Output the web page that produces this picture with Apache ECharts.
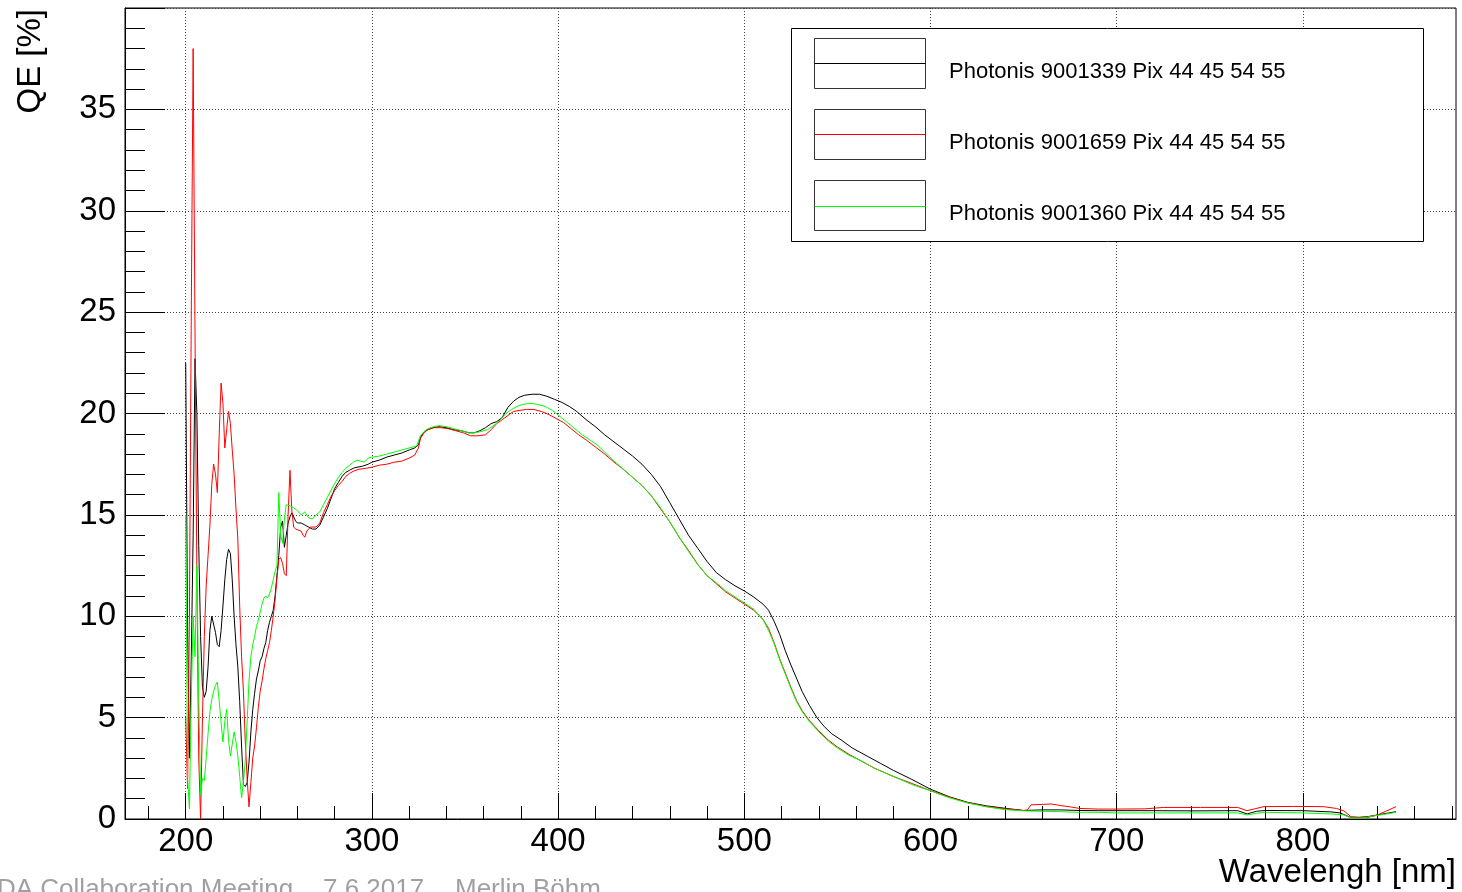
<!DOCTYPE html>
<html>
<head>
<meta charset="utf-8">
<title>QE vs wavelength</title>
<script src="https://cdn.jsdelivr.net/npm/echarts@6/dist/echarts.min.js"></script>
<style>
  html, body { margin: 0; padding: 0; background: #fff; }
  #chart { width: 1462px; height: 892px; }
</style>
</head>
<body>
<div id="chart"></div>
<script>
// Series names and colours
const seriesNames = [
  'Photonis 9001339 Pix 44 45 54 55',
  'Photonis 9001659 Pix 44 45 54 55',
  'Photonis 9001360 Pix 44 45 54 55'
];
const seriesColors = ['#000000', '#ff0000', '#00ff00'];

// Axis ranges and tick values
const X_MIN = 167.4, X_MAX = 882.2;
const Y_MIN = 0, Y_MAX = 40, Y_STEP = 5;
const xMajorTicks = [200, 300, 400, 500, 600, 700, 800];
const xMinorTicks = [180, 220, 240, 260, 280, 320, 340, 360, 380, 420, 440, 460, 480,
  520, 540, 560, 580, 620, 640, 660, 680, 720, 740, 760, 780, 820, 840, 860, 880];

// Photonis 9001339: wavelength [nm] and QE [%]
const wl9001339 = [200,201,202,203,204,205,206,207,208,209,210,211,212,213,214,215,216,217,218,219,
  220,221,222,223,224,225,226,227,228,229,230,231,232,233,234,235,236,237,238,239,
  240,241,242,243,244,245,246,247,248,249,250,251,252,253,254,255,256,257,258,259,
  260,262,264,266,268,270,272,274,276,278,280,282,284,286,288,290,292,295,298,300,
  304,308,312,316,320,323,325,326,328,330,333,336,340,344,348,352,355,358,361,364,
  367,370,373,376,379,382,386,390,394,398,402,406,410,415,420,425,430,435,440,445,
  450,455,460,465,470,475,480,485,490,495,500,505,510,513,516,519,522,525,528,531,
  535,539,543,547,552,558,566,573,580,590,600,610,620,630,640,650,660,670,680,690,
  700,720,740,765,770,775,780,800,815,820,825,830,835,840,845,850];
const qe9001339 = [22.5,9.5,3.0,8.0,14.0,22.7,20.0,13.5,9.0,6.5,6.0,6.3,7.5,9.3,10.0,10.0,9.2,8.6,8.5,9.3,
  10.5,11.8,12.8,13.3,13.1,11.8,10.0,8.6,7.5,5.8,3.6,1.7,1.6,1.8,2.8,4.3,5.4,6.2,6.9,7.3,
  7.8,8.0,8.4,8.7,9.3,9.7,10.0,10.3,11.0,12.0,13.0,14.4,14.7,13.4,14.0,14.6,14.9,15.1,14.9,14.7,
  14.6,14.6,14.5,14.4,14.3,14.3,14.5,14.9,15.3,15.8,16.3,16.6,16.9,17.1,17.2,17.3,17.35,17.4,17.5,17.6,
  17.7,17.85,17.95,18.05,18.2,18.3,18.45,18.8,19.1,19.2,19.3,19.35,19.3,19.2,19.15,19.05,19.05,19.15,19.3,19.5,
  19.6,19.8,20.3,20.6,20.8,20.9,20.95,20.95,20.85,20.7,20.55,20.35,20.1,19.7,19.35,18.95,18.6,18.25,17.9,17.5,
  17.0,16.4,15.6,14.8,14.0,13.35,12.7,12.15,11.8,11.5,11.25,10.95,10.6,10.3,9.75,9.1,8.3,7.6,6.95,6.3,
  5.6,5.0,4.55,4.2,3.9,3.5,3.1,2.75,2.4,1.95,1.47,1.1,0.82,0.65,0.53,0.42,0.45,0.45,0.42,0.41,
  0.41,0.41,0.40,0.41,0.25,0.38,0.42,0.41,0.35,0.30,0.10,0.08,0.12,0.20,0.28,0.36];

// Photonis 9001659
const wl9001659 = [200,201,202,203,204,205,206,207,208,209,210,211,212,213,214,215,216,217,218,219,
  220,221,222,223,224,225,226,227,228,229,230,231,232,233,234,235,236,237,238,239,
  240,241,242,243,244,245,246,247,248,249,250,251,252,253,254,255,256,257,258,259,
  260,262,263,264,265,267,270,272,274,276,278,280,282,284,286,288,290,293,297,300,
  304,308,312,316,320,323,325,326,328,330,333,337,341,345,349,353,357,361,364,367,
  370,373,376,379,383,387,391,395,399,403,407,411,415,420,425,430,435,440,445,450,
  455,460,465,470,475,480,485,490,495,500,505,510,513,516,519,522,525,528,531,535,
  540,545,550,556,562,570,580,590,600,610,620,630,640,650,652,654,660,665,670,675,
  680,690,700,715,725,745,765,770,774,779,795,811,818,822,826,830,835,840,845,850];
const qe9001659 = [5.0,1.5,10.0,25.0,38.0,24.0,12.0,3.0,0.0,5.0,9.0,11.5,13.0,14.5,16.5,17.5,17.0,16.1,19.0,21.5,
  20.5,18.3,19.2,20.1,19.5,18.2,17.0,15.3,13.8,10.5,8.0,6.3,3.8,2.0,0.6,1.8,3.0,3.6,4.5,5.5,
  6.3,6.8,7.4,7.9,8.3,8.7,9.3,10.0,10.8,11.9,12.8,12.9,12.6,12.1,12.0,15.0,17.2,15.2,14.4,14.3,
  14.3,14.2,14.0,13.9,14.2,14.4,14.4,14.6,15.1,15.5,15.9,16.2,16.45,16.65,16.9,17.05,17.15,17.25,17.3,17.35,
  17.45,17.5,17.6,17.65,17.8,17.95,18.3,18.75,19.05,19.2,19.3,19.3,19.25,19.15,19.05,18.9,18.9,18.95,19.2,19.5,
  19.7,19.9,20.1,20.15,20.2,20.2,20.1,19.95,19.75,19.55,19.25,18.95,18.7,18.35,18.0,17.6,17.25,16.85,16.45,15.95,
  15.3,14.65,13.9,13.25,12.55,12.0,11.6,11.2,10.9,10.6,10.3,9.85,9.4,8.7,7.9,7.2,6.5,5.85,5.35,4.85,
  4.35,3.9,3.55,3.2,2.9,2.5,2.1,1.75,1.4,1.08,0.8,0.62,0.5,0.42,0.45,0.7,0.72,0.74,0.66,0.6,
  0.52,0.49,0.49,0.5,0.57,0.57,0.57,0.41,0.5,0.61,0.62,0.61,0.52,0.4,0.1,0.08,0.08,0.2,0.4,0.61];

// Photonis 9001360
const wl9001360 = [200,201,202,203,204,205,206,207,208,209,210,211,212,213,214,215,216,217,218,219,
  220,221,222,223,224,225,226,227,228,229,230,231,232,233,234,235,236,237,238,239,
  240,241,242,243,244,245,246,247,248,249,250,251,252,253,254,256,258,260,262,264,
  266,268,270,272,274,276,278,280,282,284,286,288,290,292,294,296,298,300,304,308,
  312,316,320,324,326,328,330,333,336,340,344,348,352,355,358,362,366,369,372,375,
  378,381,385,389,393,397,401,405,409,413,417,421,425,430,435,440,445,450,455,460,
  465,470,475,480,485,490,495,500,505,510,513,516,519,522,525,528,531,535,540,545,
  550,556,562,570,580,590,600,610,620,630,640,650,660,670,680,690,700,720,740,765,
  770,775,780,800,815,822,826,832,838,845,850];
const qe9001360 = [15.0,2.0,0.5,6.0,10.0,8.0,12.5,6.0,1.2,2.0,1.9,3.0,4.2,5.3,5.9,6.3,6.6,6.75,5.8,4.75,
  3.8,4.8,5.4,3.9,3.1,3.7,4.3,3.8,3.1,2.1,1.05,1.8,2.9,4.8,6.8,8.0,8.6,9.0,9.5,9.8,
  10.2,10.6,10.9,11.0,10.9,11.1,11.4,11.8,12.2,12.5,16.1,14.0,13.6,14.8,15.5,15.45,15.35,15.2,15.0,15.15,
  14.85,14.8,15.0,15.15,15.5,15.85,16.2,16.55,16.85,17.1,17.3,17.45,17.6,17.7,17.65,17.6,17.8,17.85,17.9,18.0,
  18.1,18.2,18.3,18.4,18.9,19.1,19.25,19.35,19.4,19.35,19.25,19.15,19.05,19.05,19.1,19.2,19.45,19.7,20.0,20.2,
  20.35,20.45,20.5,20.45,20.35,20.15,19.85,19.55,19.25,18.95,18.7,18.45,18.1,17.65,17.25,16.85,16.45,15.95,15.35,14.65,
  13.9,13.2,12.55,12.0,11.65,11.25,10.95,10.65,10.35,9.85,9.3,8.65,7.85,7.15,6.45,5.8,5.3,4.8,4.3,3.85,
  3.5,3.15,2.9,2.5,2.1,1.7,1.39,1.05,0.79,0.6,0.46,0.4,0.38,0.36,0.33,0.33,0.3,0.3,0.3,0.3,
  0.2,0.28,0.33,0.3,0.25,0.2,0.05,0.05,0.15,0.25,0.33];

const wlSets = [wl9001339, wl9001659, wl9001360];
const qeSets = [qe9001339, qe9001659, qe9001360];

const FONT = '"Liberation Sans", Arial, Helvetica, sans-serif';

function pairs(xs, ys) {
  return xs.map(function (x, i) { return [x, ys[i]]; });
}

const series = seriesNames.map(function (name, i) {
  return {
    name: name,
    type: 'line',
    xAxisIndex: 0,
    yAxisIndex: 0,
    data: pairs(wlSets[i], qeSets[i]),
    showSymbol: false,
    symbol: 'none',
    clip: true,
    lineStyle: { color: seriesColors[i], width: 1 },
    itemStyle: { color: seriesColors[i] },
    z: 3 + i
  };
});

// Legend panel: outer frame, one boxed line sample and one label per series
const LEG = { x: 791.5, y: 28.5, w: 632, h: 213, boxX: 814.5, boxW: 111, boxH: 50,
  boxTops: [38.5, 109.5, 180.5], sampleYs: [63, 134, 206], textX: 949, textYs: [72, 143, 214] };
const legendItems = [{
  type: 'rect', shape: { x: LEG.x, y: LEG.y, width: LEG.w, height: LEG.h },
  style: { fill: '#fff', stroke: '#000', lineWidth: 1 }, z: 50
}];
seriesNames.forEach(function (name, i) {
  legendItems.push({
    type: 'rect', shape: { x: LEG.boxX, y: LEG.boxTops[i], width: LEG.boxW, height: LEG.boxH },
    style: { fill: '#fff', stroke: '#333', lineWidth: 1 }, z: 51
  });
  legendItems.push({
    type: 'rect', shape: { x: LEG.boxX, y: LEG.sampleYs[i], width: LEG.boxW, height: 1 },
    style: { fill: seriesColors[i], stroke: null }, z: 53
  });
  legendItems.push({
    type: 'text', x: LEG.textX, y: LEG.textYs[i],
    style: { text: name, fill: '#000', font: '22px ' + FONT, textAlign: 'left', textVerticalAlign: 'middle' },
    z: 52
  });
});

const titleItems = [
  { type: 'text', x: 31, y: 9, rotation: Math.PI / 2,
    style: { text: 'QE [%]', fill: '#000', font: '33px ' + FONT, textAlign: 'right', textVerticalAlign: 'middle' } },
  { type: 'text', x: 1456, y: 873,
    style: { text: 'Wavelengh [nm]', fill: '#000', font: '33px ' + FONT, textAlign: 'right', textVerticalAlign: 'middle' } },
  { type: 'text', x: -3, y: 877,
    style: { text: 'DA Collaboration Meeting', fill: '#a0a0a0', font: '26px ' + FONT, textAlign: 'left', textVerticalAlign: 'top' } },
  { type: 'text', x: 323, y: 877,
    style: { text: '7.6.2017', fill: '#a0a0a0', font: '26px ' + FONT, textAlign: 'left', textVerticalAlign: 'top' } },
  { type: 'text', x: 455, y: 877,
    style: { text: 'Merlin Böhm', fill: '#a0a0a0', font: '26px ' + FONT, textAlign: 'left', textVerticalAlign: 'top' } }
];

const gridLine = { color: '#444', width: 1, type: [1, 2] };

const option = {
  animation: false,
  backgroundColor: '#ffffff',
  grid: {
    left: 125, top: 8, right: 6, bottom: 73,
    show: true, borderColor: '#000', borderWidth: 1, backgroundColor: 'transparent'
  },
  xAxis: [
    {
      type: 'value', min: X_MIN, max: X_MAX, position: 'bottom',
      axisLine: { show: true, onZero: false, lineStyle: { color: '#000', width: 1 } },
      axisTick: { show: true, inside: true, length: 26, customValues: xMajorTicks,
        lineStyle: { color: '#000', width: 1 } },
      axisLabel: { show: true, customValues: xMajorTicks, margin: 6, color: '#000',
        fontSize: 33, fontFamily: FONT },
      splitLine: { show: true, lineStyle: gridLine },
      minorTick: { show: false }
    },
    {
      type: 'value', min: X_MIN, max: X_MAX, position: 'bottom',
      axisLine: { show: false },
      axisTick: { show: true, inside: true, length: 13, customValues: xMinorTicks,
        lineStyle: { color: '#000', width: 1 } },
      axisLabel: { show: false },
      splitLine: { show: false }
    }
  ],
  yAxis: {
    type: 'value', min: Y_MIN, max: Y_MAX, interval: Y_STEP,
    axisLine: { show: true, onZero: false, lineStyle: { color: '#000', width: 1 } },
    axisTick: { show: true, inside: true, length: 40, lineStyle: { color: '#000', width: 1 } },
    minorTick: { show: true, splitNumber: 5, length: 20, lineStyle: { color: '#000', width: 1 } },
    axisLabel: { show: true, margin: 9, color: '#000', fontSize: 33, fontFamily: FONT,
      showMaxLabel: false },
    splitLine: { show: true, lineStyle: gridLine }
  },
  series: series,
  graphic: titleItems.concat(legendItems)
};

const chart = echarts.init(document.getElementById('chart'), null, { renderer: 'canvas' });
chart.setOption(option);
</script>
</body>
</html>
